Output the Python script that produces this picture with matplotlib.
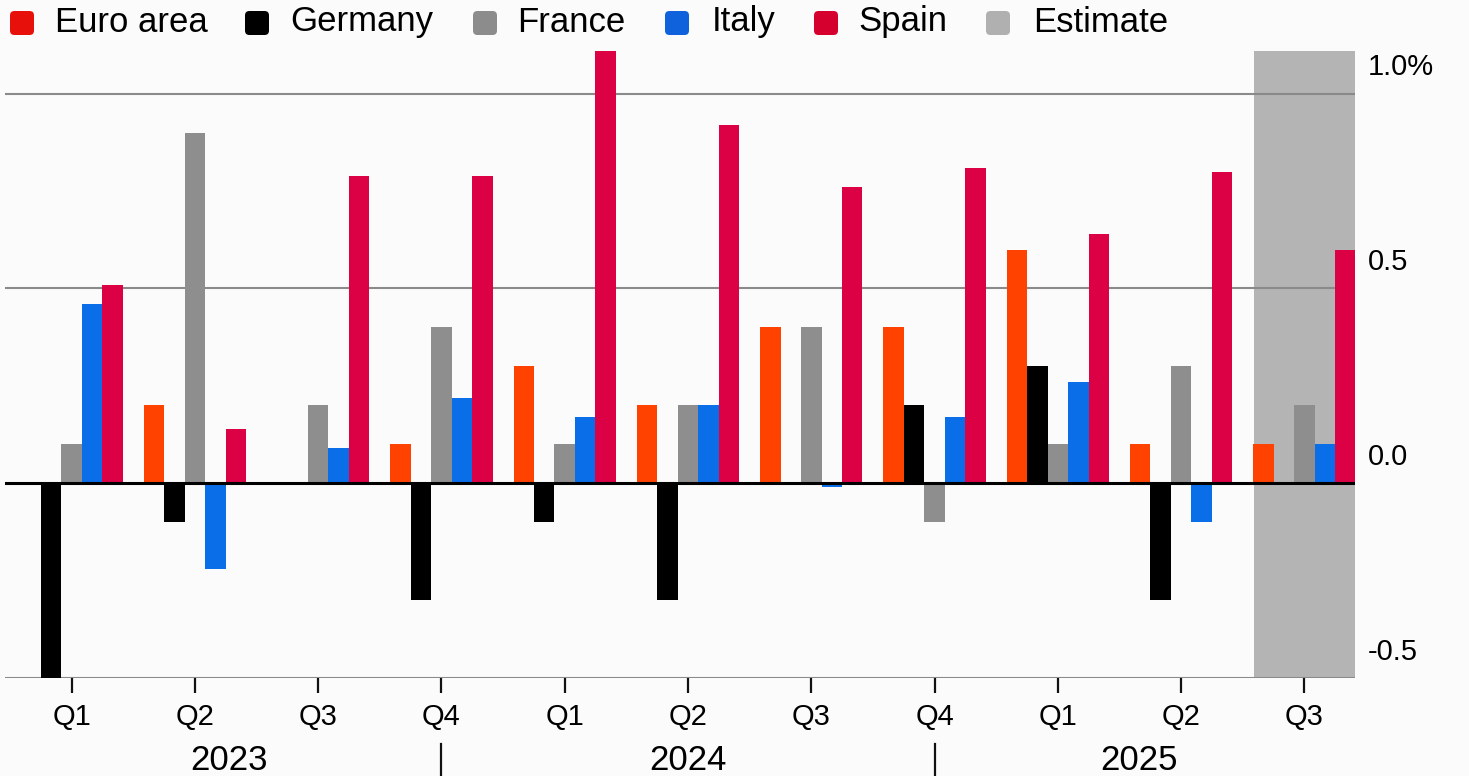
import matplotlib
matplotlib.use("Agg")
import matplotlib.pyplot as plt
import matplotlib.transforms as mtransforms
from matplotlib.patches import FancyBboxPatch, Rectangle
import numpy as np

plt.rcParams['font.family'] = ['Liberation Sans', 'DejaVu Sans']

# quarterly GDP growth, q/q %
quarters = ['Q1', 'Q2', 'Q3', 'Q4', 'Q1', 'Q2', 'Q3', 'Q4', 'Q1', 'Q2', 'Q3']
years = ['2023', '2024', '2025']
year_pos = [1.28, 5.0, 8.66]
year_breaks = [3, 7]

euro = [0.0, 0.2, 0.0, 0.1, 0.3, 0.2, 0.4, 0.4, 0.6, 0.1, 0.1]
germany = [-0.5, -0.1, 0.0, -0.3, -0.1, -0.3, 0.0, 0.2, 0.3, -0.3, 0.0]
france = [0.1, 0.9, 0.2, 0.4, 0.1, 0.2, 0.4, -0.1, 0.1, 0.3, 0.2]
italy = [0.46, -0.22, 0.09, 0.22, 0.17, 0.2, -0.01, 0.17, 0.26, -0.1, 0.1]
spain = [0.51, 0.14, 0.79, 0.79, 1.11, 0.92, 0.76, 0.81, 0.64, 0.8, 0.6]

names = ['Euro area', 'Germany', 'France', 'Italy', 'Spain']
bar_colors = ['#ff4200', '#000000', '#8e8e8e', '#0a6ee8', '#dc0045']
key_colors = ['#e8100a', '#000000', '#8c8c8c', '#0f62dc', '#d6002f', '#b0b0b0']
series = [euro, germany, france, italy, spain]

estimate_start = 9.59
estimate_top = 1.11

fig = plt.figure(figsize=(14.69, 7.76), dpi=100, facecolor='#fbfbfb')
ax = fig.add_axes([5 / 1469, 98 / 776, 1350 / 1469, 631 / 776])
ax.set_facecolor('#fbfbfb')

x = np.arange(len(quarters))
w = 0.166

# shaded estimate period
ax.add_patch(Rectangle((estimate_start, -0.5), 10.41 - estimate_start,
                       estimate_top + 0.5, color='#b4b4b4', lw=0, zorder=0))

for i, (vals, c) in enumerate(zip(series, bar_colors)):
    ax.bar(x + (i - 2) * w, vals, width=w, color=c, lw=0, zorder=2)

for v in [1.0, 0.5, -0.5]:
    ax.axhline(v, color='#8a8a8a', lw=1.5, zorder=1)
ax.axhline(0, color='#000000', lw=2.2, zorder=3)

ax.set_xlim(-0.54, 10.41)
ax.set_ylim(-0.5, 1.12)
for s in ax.spines.values():
    s.set_visible(False)
ax.set_yticks([])
ax.set_xticks(x)
ax.set_xticklabels(quarters, fontsize=21, color='#000000')
ax.tick_params(axis='x', length=11, width=1.6, color='#111111', pad=7)

# right-hand value labels sit just above their gridlines
ytrans = mtransforms.blended_transform_factory(ax.transAxes, ax.transData)
for v, lab in zip([1.0, 0.5, 0.0, -0.5], ['1.0%', '0.5', '0.0', '-0.5']):
    ax.annotate(lab, xy=(1.0096, v), xycoords=ytrans, xytext=(0, 19),
                textcoords='offset points', va='center', ha='left',
                fontsize=21, color='#000000')

# year row and separators
xtrans = mtransforms.blended_transform_factory(ax.transData, ax.transAxes)
for p, yr in zip(year_pos, years):
    ax.text(p, -0.13, yr, transform=xtrans, ha='center',
            va='center', fontsize=25, color='#000000')
for b in year_breaks:
    ax.plot([b, b], [-0.104, -0.16], transform=xtrans, color='#111111',
            lw=1.6, clip_on=False)

# legend row
key_x = [10, 245, 473, 665, 814, 986]
text_x = [55, 290, 517, 712, 858, 1033]
for kx, tx, c, lab in zip(key_x, text_x, key_colors, names + ['Estimate']):
    fig.add_artist(FancyBboxPatch((kx / 1469, 1 - 35 / 776), 24 / 1469, 24 / 776,
                                  boxstyle='round,pad=0,rounding_size=0.003',
                                  transform=fig.transFigure, color=c, lw=0,
                                  mutation_aspect=1469 / 776))
    fig.text(tx / 1469, 1 - 22 / 776, lab, ha='left', va='center',
             fontsize=25, color='#000000')

fig.savefig('out.png', dpi=100, facecolor=fig.get_facecolor())
